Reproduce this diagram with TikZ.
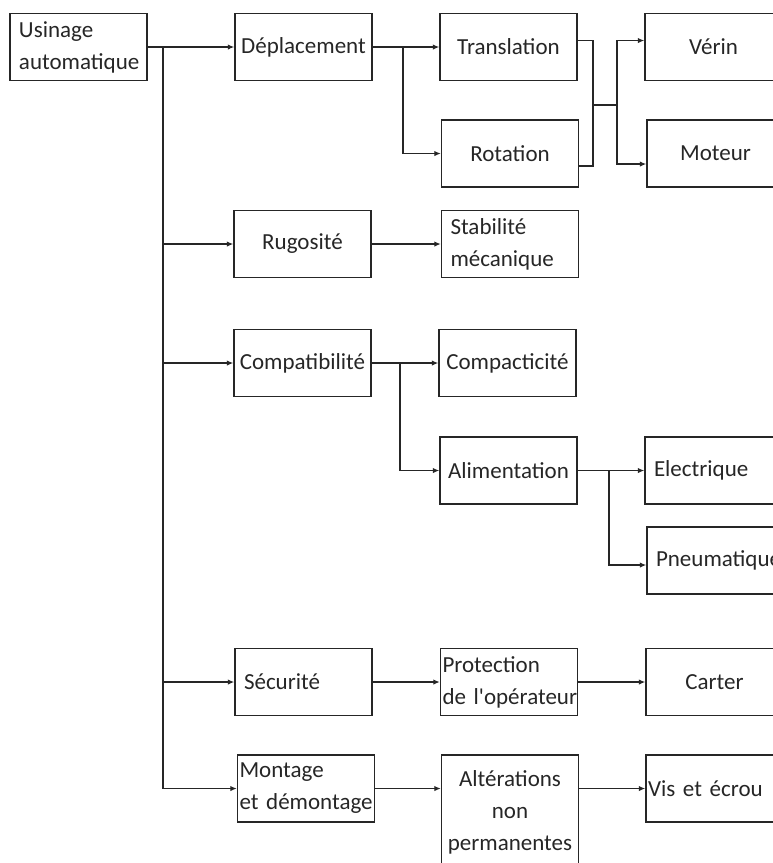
\documentclass[tikz,border=0pt]{standalone}
\usepackage{fontspec}
\setmainfont{Carlito}
\usepackage{tikz}
\usetikzlibrary{arrows.meta,positioning}
\hyphenpenalty=10000
\exhyphenpenalty=10000

\begin{document}
\begin{tikzpicture}[x=1pt, y=-1pt,
    box/.style={rectangle, draw=black!85, line width=1.4pt, minimum width=137pt, minimum height=67pt,
                inner sep=0pt, align=center, text=black!85, font=\fontsize{23}{32}\selectfont},
    lbox/.style={box, align=left, text width=119pt, inner xsep=9pt},
    nbox/.style={box, align=left, text width=133pt, inner xsep=2pt},
    arr/.style={-{Latex[length=6.5pt,width=5.5pt]}, line width=1.4pt, black!85},
    link/.style={line width=1.4pt, black!85}
]
    \useasboundingbox (0,0) rectangle (773,863);
    \clip (0,0) rectangle (773,863);

    \node[lbox] (usinage) at (78.5,47) {Usinage\\automatique};
    \node[box] (deplacement) at (303.5,47) {Déplacement};
    \node[box] (rugosite) at (302.5,244) {Rugosité};
    \node[box] (compatibilite) at (302.5,363) {Compatibilité};
    \node[lbox] (securite) at (303.5,682) {Sécurité};
    \node[nbox] (montage) at (306,788.5) {Montage\\\mbox{et démontage}};

    \node[box] (translation) at (508.5,47) {Translation};
    \node[box] (rotation) at (510,153.5) {Rotation};
    \node[lbox] (stabilite) at (510,244) {Stabilité\\mécanique};
    \node[box] (compacticite) at (507.5,363) {Compacticité};
    \node[box] (alimentation) at (508.5,470.5) {Alimentation};
    \node[nbox] (protection) at (509,682) {Protection\\\mbox{de l\textquotesingle opérateur}};
    \node[box, minimum height=114pt] (alterations) at (510,812) {Altérations\\non\\permanentes};

    \node[box] (verin) at (713.5,47) {Vérin};
    \node[box] (moteur) at (715.5,153.5) {Moteur};
    \node[lbox] (electrique) at (713.5,470.5) {Electrique};
    \node[lbox] (pneumatique) at (715.5,560.5) {Pneumatique};
    \node[box] (carter) at (714.5,682) {Carter};
    \node[nbox] (vis) at (714.5,788.5) {\mbox{Vis et écrou}};

    \coordinate (trunk) at (163,47);
    \coordinate (depfork) at (403,47);
    \coordinate (merge) at (593,105);
    \coordinate (actfork) at (617,105);
    \coordinate (cfork) at (400,363);
    \coordinate (afork) at (609,470.5);

    \draw[arr] (usinage.east) -- (deplacement.west);
    \draw[arr] (trunk) |- (rugosite.west);
    \draw[arr] (trunk) |- (compatibilite.west);
    \draw[arr] (trunk) |- (securite.west);
    \draw[arr] (trunk) |- (montage.west);

    \draw[arr] (deplacement.east) -- (translation.west);
    \draw[arr] (depfork) |- (rotation.west);
    \draw[link] ([yshift=6.5pt]translation.east) -| (merge) |- ([yshift=-12.5pt]rotation.east);
    \draw[link] (merge) -- (actfork);
    \draw[arr] (actfork) |- ([yshift=6.5pt]verin.west);
    \draw[arr] (actfork) |- ([yshift=-10.5pt]moteur.west);

    \draw[arr] (rugosite.east) -- (stabilite.west);

    \draw[arr] (compatibilite.east) -- (compacticite.west);
    \draw[arr] (cfork) |- (alimentation.west);
    \draw[arr] (alimentation.east) -- (electrique.west);
    \draw[arr] (afork) |- ([yshift=-4.5pt]pneumatique.west);

    \draw[arr] (securite.east) -- (protection.west);
    \draw[arr] (protection.east) -- (carter.west);

    \draw[arr] (montage.east) -- (montage.east -| alterations.west);
    \draw[arr] (vis.west -| alterations.east) -- (vis.west);
\end{tikzpicture}
\end{document}
